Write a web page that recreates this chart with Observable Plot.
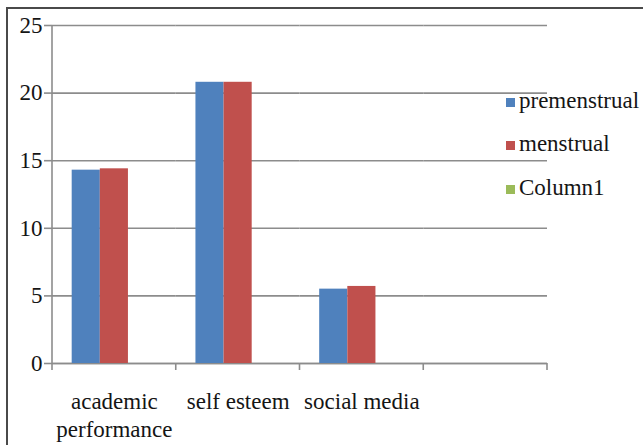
<!DOCTYPE html>
<html>
<head>
<meta charset="utf-8">
<script src="https://cdn.jsdelivr.net/npm/d3@7"></script>
<script src="https://cdn.jsdelivr.net/npm/@observablehq/plot@0.6"></script>
<style>
  html, body { margin: 0; padding: 0; background: #fff; overflow: hidden; }
  #wrap { position: relative; width: 643px; height: 445px; overflow: hidden; }
  #wrap, #wrap *, #wrap svg text, #wrap svg tspan {
    font-family: 'Liberation Serif', 'Times New Roman', serif !important;
  }
  #border { position: absolute; left: 6px; top: 7px; width: 700px; height: 500px;
            border: 2px solid #4a4a4a; box-sizing: border-box; }
  #chart { position: absolute; left: 0; top: 0; }
  #legend { position: absolute; left: 506px; top: 78.5px; font-size: 23px; color: #151515; }
  .item { height: 43.5px; line-height: 43.5px; white-space: nowrap; }
  .sw { display: inline-block; width: 9px; height: 9px; margin: 0 4px 1px 0; }
</style>
</head>
<body>
<div id="wrap">
  <div id="border"></div>
  <div id="chart"></div>
  <div id="legend"></div>
</div>
<script>
// Categories along the x axis (the last slot is an empty column)
const categories = ["academic performance", "self esteem", "social media", ""];
const categoryLabels = ["academic\nperformance", "self esteem", "social media", ""];

// Series
const series = ["premenstrual", "menstrual", "Column1"];
const seriesColors = ["#4f81bd", "#c0504d", "#9bbb59"];

// Values per category, per series
const premenstrual = [14.3, 20.8, 5.5, null];
const menstrual = [14.4, 20.8, 5.7, null];
const column1 = [null, null, null, null];

// Y axis ticks
const yTicks = [0, 5, 10, 15, 20, 25];

const valuesBySeries = [premenstrual, menstrual, column1];
const rows = [];
categories.forEach((c, i) => {
  series.forEach((s, j) => {
    rows.push({category: c, series: s, value: valuesBySeries[j][i]});
  });
});

const axisGray = "#8c8c8c";
const textColor = "#151515";
const serifFont = "'Liberation Serif', 'Times New Roman', serif";

const chart = Plot.plot({
  width: 643,
  height: 445,
  marginLeft: 52,
  marginRight: 96,
  marginTop: 25,
  marginBottom: 82,
  style: {fontFamily: serifFont, fontSize: "23px", color: textColor, background: "transparent"},
  fx: {domain: categories, padding: 0, round: false, label: null, axis: null},
  x: {domain: series, paddingInner: 0, paddingOuter: 0.7, round: false, axis: null},
  y: {domain: [0, 25], ticks: yTicks, label: null, axis: null},
  color: {domain: series, range: seriesColors},
  marks: [
    Plot.gridY(yTicks, {stroke: axisGray, strokeOpacity: 1, strokeWidth: 1.6}),
    Plot.ruleY([0], {stroke: axisGray, strokeWidth: 1.6}),
    Plot.barY(rows.filter(d => d.value != null), {fx: "category", x: "series", y: "value", fill: "series"}),
    Plot.ruleY(rows, {fx: "category", y: () => null, stroke: "none"}),
    Plot.axisY(yTicks, {tickSize: 8, tickPadding: 2, stroke: axisGray, strokeWidth: 1.6, fill: textColor}),
    Plot.axisFx({
      anchor: "bottom",
      tickSize: 0,
      tickPadding: 26,
      lineHeight: 1.2,
      fill: textColor,
      tickFormat: (d) => categoryLabels[categories.indexOf(d)]
    })
  ]
});

// Value axis line and category boundary ticks, placed with the plot's own scales
const fx = chart.scale("fx");
const y = chart.scale("y");
const edges = categories.map(c => fx.apply(c));
edges.push(fx.apply(categories[categories.length - 1]) + fx.bandwidth);
const g = d3.select(chart).append("g")
  .attr("stroke", axisGray)
  .attr("stroke-width", 1.6);
g.append("line")
  .attr("x1", edges[0]).attr("x2", edges[0])
  .attr("y1", y.apply(0)).attr("y2", y.apply(25));
g.selectAll(".edge").data(edges).join("line")
  .attr("class", "edge")
  .attr("x1", d => d).attr("x2", d => d)
  .attr("y1", y.apply(0)).attr("y2", y.apply(0) + 7);

d3.select(chart).selectAll("text, tspan").style("font-family", serifFont);
document.getElementById("chart").appendChild(chart);

// Legend
const legend = d3.select("#legend");
series.forEach((s, i) => {
  const item = legend.append("div").attr("class", "item");
  item.append("span").attr("class", "sw").style("background", seriesColors[i]);
  item.append("span").text(s).style("font-family", serifFont);
});
</script>
</body>
</html>
